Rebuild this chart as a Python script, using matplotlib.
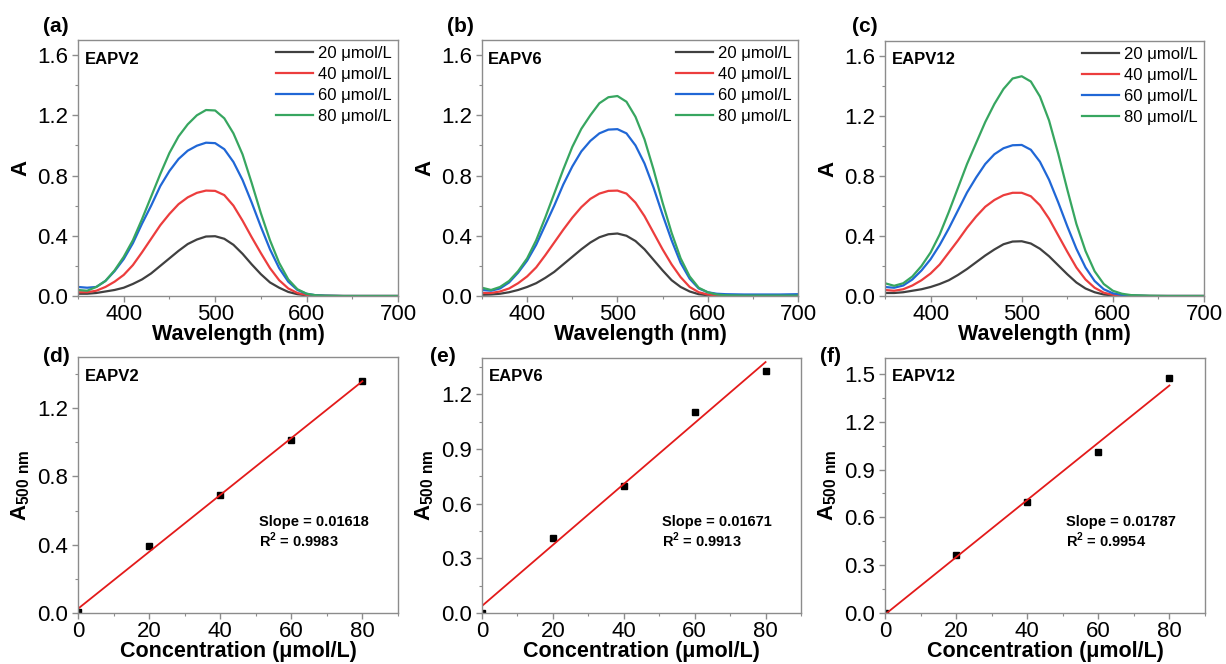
import numpy as np
import matplotlib
matplotlib.use('Agg')
import matplotlib.pyplot as plt
from matplotlib.ticker import MultipleLocator

plt.rcParams['font.family'] = ['Liberation Sans', 'DejaVu Sans']
plt.rcParams['mathtext.fontset'] = 'custom'
plt.rcParams['mathtext.rm'] = 'Liberation Sans:bold'
plt.rcParams['mathtext.bf'] = 'Liberation Sans:bold'

# wavelengths (nm) and absorbance
wl = [350, 360, 370, 380, 390, 400, 410, 420, 430, 440, 450, 460, 470, 480, 490, 500,
      510, 520, 530, 540, 550, 560, 570, 580, 590, 600, 610, 620, 640, 660, 680, 700]

# EAPV2
eapv2_20 = [0.015, 0.015, 0.02, 0.03, 0.04, 0.055, 0.08, 0.11, 0.15, 0.20, 0.25, 0.30, 0.345, 0.375, 0.395, 0.397,
            0.38, 0.34, 0.28, 0.21, 0.145, 0.09, 0.055, 0.027, 0.012, 0.005, 0.002, 0.001, 0, 0, 0, 0]
eapv2_40 = [0.025, 0.025, 0.035, 0.06, 0.095, 0.14, 0.205, 0.29, 0.38, 0.47, 0.545, 0.61, 0.655, 0.685, 0.70, 0.698,
            0.67, 0.60, 0.50, 0.39, 0.285, 0.185, 0.105, 0.05, 0.02, 0.007, 0.003, 0.001, 0, 0, 0, 0]
eapv2_60 = [0.06, 0.055, 0.06, 0.10, 0.165, 0.245, 0.35, 0.48, 0.60, 0.73, 0.83, 0.91, 0.965, 0.998, 1.018, 1.015,
            0.975, 0.89, 0.77, 0.62, 0.46, 0.31, 0.185, 0.095, 0.04, 0.015, 0.005, 0.002, 0, 0, 0, 0]
eapv2_80 = [0.04, 0.035, 0.06, 0.10, 0.17, 0.26, 0.37, 0.51, 0.66, 0.81, 0.95, 1.06, 1.14, 1.20, 1.235, 1.232,
            1.18, 1.08, 0.94, 0.75, 0.55, 0.37, 0.22, 0.11, 0.045, 0.015, 0.005, 0.002, 0, 0, 0, 0]

# EAPV6
eapv6_20 = [0.008, 0.01, 0.015, 0.025, 0.04, 0.06, 0.085, 0.12, 0.16, 0.21, 0.26, 0.31, 0.355, 0.39, 0.41, 0.415,
            0.40, 0.365, 0.31, 0.24, 0.17, 0.105, 0.06, 0.03, 0.012, 0.005, 0.002, 0.001, 0, 0, 0, 0]
eapv6_40 = [0.02, 0.02, 0.03, 0.05, 0.085, 0.13, 0.19, 0.27, 0.355, 0.44, 0.52, 0.59, 0.645, 0.68, 0.698, 0.70,
            0.68, 0.62, 0.53, 0.42, 0.31, 0.21, 0.125, 0.06, 0.025, 0.01, 0.004, 0.002, 0, 0, 0, 0]
eapv6_60 = [0.04, 0.035, 0.05, 0.09, 0.155, 0.235, 0.34, 0.47, 0.60, 0.74, 0.86, 0.96, 1.03, 1.08, 1.105, 1.108,
            1.08, 1.00, 0.88, 0.72, 0.54, 0.37, 0.22, 0.115, 0.05, 0.025, 0.015, 0.012, 0.01, 0.01, 0.01, 0.012]
eapv6_80 = [0.055, 0.04, 0.06, 0.10, 0.165, 0.25, 0.37, 0.52, 0.68, 0.84, 0.99, 1.11, 1.20, 1.28, 1.32, 1.328,
            1.29, 1.19, 1.04, 0.84, 0.62, 0.42, 0.25, 0.13, 0.055, 0.025, 0.01, 0.005, 0.003, 0.003, 0.003, 0.003]

# EAPV12
eapv12_20 = [0.02, 0.02, 0.025, 0.035, 0.045, 0.06, 0.08, 0.105, 0.14, 0.18, 0.225, 0.27, 0.31, 0.345, 0.363, 0.365,
             0.35, 0.315, 0.265, 0.205, 0.145, 0.09, 0.05, 0.025, 0.01, 0.004, 0.002, 0.001, 0, 0, 0, 0]
eapv12_40 = [0.04, 0.035, 0.045, 0.07, 0.105, 0.15, 0.21, 0.29, 0.37, 0.455, 0.53, 0.595, 0.64, 0.672, 0.688, 0.688,
             0.665, 0.605, 0.515, 0.405, 0.295, 0.19, 0.11, 0.055, 0.022, 0.008, 0.003, 0.001, 0, 0, 0, 0]
eapv12_60 = [0.06, 0.055, 0.07, 0.11, 0.17, 0.245, 0.34, 0.45, 0.57, 0.69, 0.79, 0.88, 0.945, 0.985, 1.005, 1.007,
             0.975, 0.895, 0.775, 0.625, 0.465, 0.315, 0.19, 0.10, 0.045, 0.018, 0.007, 0.003, 0, 0, 0, 0]
eapv12_80 = [0.085, 0.068, 0.085, 0.13, 0.20, 0.29, 0.41, 0.56, 0.72, 0.88, 1.02, 1.16, 1.28, 1.38, 1.45, 1.465,
             1.43, 1.33, 1.17, 0.95, 0.71, 0.48, 0.30, 0.165, 0.08, 0.035, 0.015, 0.006, 0.002, 0, 0, 0]

conc_labels = ['20 μmol/L', '40 μmol/L', '60 μmol/L', '80 μmol/L']
line_colors = ['#404040', '#ec3d3d', '#2067d6', '#37a660']

# A at 500 nm vs concentration
conc = [0, 20, 40, 60, 80]
a500_eapv2 = [0.005, 0.39, 0.69, 1.013, 1.36]
a500_eapv6 = [0.0, 0.41, 0.70, 1.105, 1.326]
a500_eapv12 = [0.0, 0.366, 0.695, 1.012, 1.473]

samples = ['EAPV2', 'EAPV6', 'EAPV12']
slopes = ['0.01618', '0.01671', '0.01787']
r2s = ['0.9983', '0.9913', '0.9954']

W, H = 1226, 664
fig = plt.figure(figsize=(W / 100, H / 100), dpi=100)


def px_axes(left, top, right, bottom):
    return fig.add_axes([left / W, 1 - bottom / H, (right - left) / W, (bottom - top) / H])


def style(ax):
    for s in ax.spines.values():
        s.set_color('#8c8c8c')
        s.set_linewidth(1.0)
    ax.tick_params(which='both', direction='out', top=False, right=False, colors='#8c8c8c',
                   labelcolor='black', labelsize=16)
    ax.tick_params(which='major', length=4, width=1, pad=3)
    ax.tick_params(which='minor', length=2.5, width=0.8)
    ax.tick_params(axis='x', which='major', pad=2)


def spectrum(ax, curves, name):
    for y, c, lab in zip(curves, line_colors, conc_labels):
        ax.plot(wl, y, color=c, lw=1.6, label=lab)
    ax.set_xlim(350, 700)
    ax.set_ylim(0, 1.7)
    ax.xaxis.set_major_locator(MultipleLocator(100))
    ax.xaxis.set_minor_locator(MultipleLocator(50))
    ax.yaxis.set_major_locator(MultipleLocator(0.4))
    ax.yaxis.set_minor_locator(MultipleLocator(0.2))
    style(ax)
    ax.set_xlabel('Wavelength (nm)', fontsize=15.5, fontweight='bold', labelpad=-1)
    ax.set_ylabel('A', fontsize=16, fontweight='bold', labelpad=4)
    ax.text(0.02, 0.955, name, transform=ax.transAxes, fontsize=12, fontweight='bold', va='top')
    ax.legend(loc='upper right', frameon=False, fontsize=12, handlelength=2.2, handletextpad=0.35,
              labelspacing=0.36, borderpad=0.15, borderaxespad=0.2)


def calib(ax, a500, name, slope, r2, ymax, ystep):
    ax.plot(conc, a500, 's', color='black', ms=4.5)
    k, b = np.polyfit(conc, a500, 1)
    xs = np.array([0, 80])
    ax.plot(xs, k * xs + b, color='#e31a1a', lw=1.3)
    ax.set_xlim(0, 90)
    ax.set_ylim(0, ymax)
    ax.xaxis.set_major_locator(MultipleLocator(20))
    ax.xaxis.set_minor_locator(MultipleLocator(10))
    ax.yaxis.set_major_locator(MultipleLocator(ystep))
    ax.yaxis.set_minor_locator(MultipleLocator(ystep / 2))
    style(ax)
    ax.set_xlabel('Concentration (μmol/L)', fontsize=15.5, fontweight='bold', labelpad=-1)
    ax.set_ylabel(r'A$_{\mathregular{500\ nm}}$', fontsize=16, fontweight='bold', labelpad=4)
    ax.text(0.02, 0.955, name, transform=ax.transAxes, fontsize=12, fontweight='bold', va='top')
    fam = ['Liberation Sans Narrow', 'Liberation Sans']
    ax.text(0.565, 0.355, 'Slope = ' + slope, transform=ax.transAxes, fontsize=10.5,
            fontweight='bold', va='center', family=fam)
    ax.text(0.565, 0.283, r'R$^{\mathregular{2}}$ = ' + r2, transform=ax.transAxes, fontsize=10.5,
            fontweight='bold', va='center', family=fam)


ax_a = px_axes(78, 40, 398, 296)
ax_b = px_axes(482, 40, 798, 296)
ax_c = px_axes(885, 41, 1204, 296)
ax_d = px_axes(78, 357, 398, 613)
ax_e = px_axes(482, 358, 801, 613)
ax_f = px_axes(885, 358, 1205, 613)

spectrum(ax_a, [eapv2_20, eapv2_40, eapv2_60, eapv2_80], samples[0])
spectrum(ax_b, [eapv6_20, eapv6_40, eapv6_60, eapv6_80], samples[1])
spectrum(ax_c, [eapv12_20, eapv12_40, eapv12_60, eapv12_80], samples[2])

calib(ax_d, a500_eapv2, samples[0], slopes[0], r2s[0], 1.5, 0.4)
calib(ax_e, a500_eapv6, samples[1], slopes[1], r2s[1], 1.4, 0.3)
calib(ax_f, a500_eapv12, samples[2], slopes[2], r2s[2], 1.6, 0.3)

# panel letters
for lab, x, y in [('(a)', 43, 27), ('(b)', 447, 27), ('(c)', 852, 27),
                  ('(d)', 43, 357), ('(e)', 430, 357), ('(f)', 820, 357)]:
    fig.text(x / W, 1 - y / H, lab, fontsize=15, fontweight='bold', va='center', ha='left')

fig.savefig('out.png', dpi=100)
